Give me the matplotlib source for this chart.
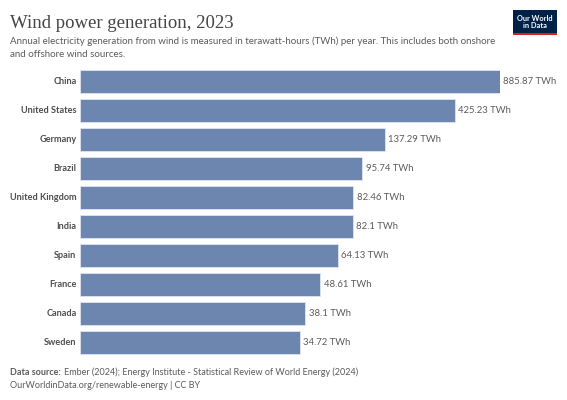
import matplotlib.pyplot as plt
from matplotlib.patches import Rectangle

countries = ["China", "United States", "Germany", "Brazil", "United Kingdom",
             "India", "Spain", "France", "Canada", "Sweden"]
values = [885.87, 425.23, 137.29, 95.74, 82.46, 82.1, 64.13, 48.61, 38.1, 34.72]
value_labels = ["885.87 TWh", "425.23 TWh", "137.29 TWh", "95.74 TWh", "82.46 TWh",
                "82.1 TWh", "64.13 TWh", "48.61 TWh", "38.1 TWh", "34.72 TWh"]

W, H = 567, 400
fig = plt.figure(figsize=(W / 100, H / 100), dpi=100)
fig.patch.set_facecolor("white")

def fx(px):
    return px / W

def fy(py):
    return 1 - py / H

ax = fig.add_axes([fx(80), fy(357), fx(500) - fx(80), fy(67) - fy(357)])
ax.set_xscale("log")
ypos = list(range(len(countries)))
widths = [v - 1 for v in values]
ax.barh(ypos, widths, left=1, height=0.8, color="#6d86b0",
        edgecolor="#dfe5ef", linewidth=0.6)
ax.set_xlim(1, values[0])
ax.set_ylim(len(countries) - 0.5, -0.5)
ax.axis("off")

for i, (v, lab) in enumerate(zip(values, value_labels)):
    ax.annotate(lab, (v, i), xytext=(2.5, 0), textcoords="offset points",
                va="center", ha="left", fontsize=6.8, family="Lato",
                color="#5b5b5b", annotation_clip=False)
    ax.annotate(countries[i], (1, i), xytext=(-2.5, 0), textcoords="offset points",
                va="center", ha="right", fontsize=6.6, family="Lato",
                fontweight="bold", color="#4e4e4e", annotation_clip=False)

# title and subtitle
fig.text(fx(10), fy(28), "Wind power generation, 2023", fontsize=13.5,
         family="Liberation Serif", color="#444444", va="baseline")
fig.text(fx(10), fy(44), "Annual electricity generation from wind is measured in terawatt-hours (TWh) per year. This includes both onshore",
         fontsize=7.0, family="Lato", color="#5b5b5b", va="baseline")
fig.text(fx(10), fy(57), "and offshore wind sources.",
         fontsize=7.0, family="Lato", color="#5b5b5b", va="baseline")

# footer
t = fig.text(fx(10), fy(375), "Data source: ", fontsize=6.5, family="Lato",
             fontweight="bold", color="#5b5b5b", va="baseline")
r = fig.canvas.get_renderer()
bb = t.get_window_extent(renderer=r)
fig.text(bb.x1 / fig.bbox.width + fx(1.5), fy(375),
         "Ember (2024); Energy Institute - Statistical Review of World Energy (2024)",
         fontsize=6.5, family="Lato", color="#5b5b5b", va="baseline")
fig.text(fx(10), fy(388), "OurWorldinData.org/renewable-energy | CC BY",
         fontsize=6.5, family="Lato", color="#5b5b5b", va="baseline")

# logo
fig.patches.append(Rectangle((fx(513), fy(35)), fx(557) - fx(513), fy(10) - fy(35),
                             transform=fig.transFigure, facecolor="#002147",
                             edgecolor="none"))
fig.patches.append(Rectangle((fx(513), fy(35)), fx(557) - fx(513), 2 / H,
                             transform=fig.transFigure, facecolor="#ce261e",
                             edgecolor="none"))
fig.text(fx(535), fy(22), "Our World\nin Data", fontsize=5.3, family="Lato",
         fontweight="bold", color="white", ha="center", va="center",
         linespacing=1.0)

fig.savefig("out.png", dpi=100)
